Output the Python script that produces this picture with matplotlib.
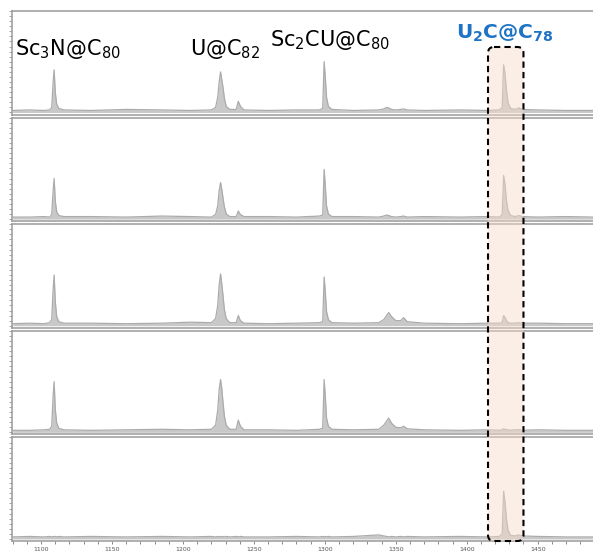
import numpy as np
import matplotlib
matplotlib.use("Agg")
import matplotlib.pyplot as plt
from matplotlib.patches import FancyBboxPatch
from matplotlib.ticker import MultipleLocator

# m/z points where the trace changes (shared by all five spectra)
mz = [1080, 1092, 1102, 1106, 1107.5, 1108.5, 1109.2, 1110, 1111, 1112.5, 1116,
      1135, 1160, 1185, 1205,
      1220, 1223, 1224.5, 1225.5, 1226.5, 1227.3, 1228.2, 1229.2, 1230.5, 1233,
      1237.5, 1239, 1240.5, 1243,
      1260, 1280, 1296, 1298.5, 1299.5, 1300.3, 1301.2, 1302.5, 1305, 1320,
      1338, 1341.5, 1343.5, 1345, 1347, 1350, 1353.5, 1355.5, 1358, 1370,
      1395, 1415, 1423, 1425, 1426, 1427, 1428, 1429.2, 1431, 1434, 1437, 1439,
      1450, 1470, 1489]

spec1 = [2, 2.5, 2, 2.5, 5, 30, 42, 20, 8, 4, 2.5,
         2, 3, 2.5, 2,
         2.5, 5, 15, 30, 40, 33, 25, 14, 6, 3, 3, 11, 6, 2.5,
         2, 2.5, 2.5, 4, 50, 35, 15, 6, 3, 2,
         2.5, 3.5, 5, 4.5, 3, 2.5, 3, 3.5, 2.5, 2,
         2.5, 2, 2.5, 5, 47, 38, 22, 9, 4, 3, 4.5, 3, 2.5, 2, 2]
spec2 = [2, 2, 2.5, 2, 4.5, 28, 40, 18, 7, 3.5, 2.5,
         2.5, 2, 3, 2.5,
         2, 4.5, 13, 28, 36, 30, 21, 12, 5, 2.5, 2.5, 8, 4.5, 2.5,
         2.5, 2, 3, 4, 49, 33, 13, 5, 2.5, 2.5,
         2, 3, 4, 3.5, 2.5, 2, 2.5, 3, 2, 2.5,
         2, 2.5, 2, 4.5, 43, 34, 18, 8, 3.5, 2.5, 3.5, 2.5, 2, 2.5, 2]
spec3 = [2, 2.5, 2, 3, 6, 36, 50, 24, 9, 4, 2.5,
         2.5, 2, 2.5, 3.5,
         3, 7, 20, 40, 51, 42, 30, 16, 7, 3, 3, 10, 5, 2.5,
         2, 2.5, 3, 4, 48, 34, 14, 6, 3, 2.5,
         3, 6, 10, 13, 9, 5, 5, 8, 4, 2.5,
         2, 2.5, 2.5, 3, 10, 8, 5, 3, 2.5, 2.5, 3, 2.5, 2.5, 2, 2]
spec4 = [2, 2, 2.5, 3, 6, 36, 50, 23, 9, 4, 2.5,
         2, 2.5, 3, 2.5,
         3, 7, 22, 42, 52, 44, 30, 16, 7, 3, 3, 12, 6, 2.5,
         2.5, 2, 3, 4, 52, 36, 14, 6, 3, 2.5,
         3, 7, 11, 14, 9, 5, 4.5, 6, 3.5, 2.5,
         2, 2.5, 2, 2.5, 3.5, 3, 2.5, 2.5, 2, 2.5, 2.5, 2, 2.5, 2, 2]
spec5 = [2, 2.5, 2, 2.5, 2, 2.5, 2, 2.5, 2, 2.5, 2,
         2.5, 2, 2.5, 2,
         2.5, 2, 2.5, 2, 2.5, 2, 2.5, 2, 2.5, 2, 2.5, 2, 2.5, 2,
         2, 2.5, 2, 2.5, 2, 2.5, 2, 2.5, 2, 2.5,
         4, 3, 2.5, 2, 2.5, 2, 2.5, 2, 2.5, 2,
         2.5, 2, 2.5, 5, 47, 36, 20, 8, 3.5, 3, 4, 3, 2.5, 2, 2]
spectra = [spec1, spec2, spec3, spec4, spec5]

box_range = [1415, 1440]

W, H = 593, 558
XMIN, XMAX = 1079.5, 1489
fig = plt.figure(figsize=(W / 100, H / 100), dpi=100)
left, right = 12 / W, 1.0
top, bottom = 1 - 11 / H, 1 - 541 / H
gs = fig.add_gridspec(5, 1, left=left, right=right, top=top, bottom=bottom, hspace=0.03)

axes = []
for i, s in enumerate(spectra):
    ax = fig.add_subplot(gs[i])
    ax.fill_between(mz, 0, s, color="#c8c8c8", lw=0)
    ax.plot(mz, s, color="#ababab", lw=0.9)
    ax.set_xlim(XMIN, XMAX)
    ax.set_ylim(-2, 100)
    for side in ["left", "bottom", "top"]:
        ax.spines[side].set_color("#9a9a9a")
        ax.spines[side].set_linewidth(1.1)
    ax.spines["right"].set_visible(False)
    ax.yaxis.set_major_locator(MultipleLocator(5))
    ax.tick_params(axis="y", length=2, width=0.6, color="#999999", labelleft=False)
    if i < 4:
        ax.tick_params(axis="x", bottom=False, labelbottom=False)
    else:
        ax.xaxis.set_major_locator(MultipleLocator(50))
        ax.xaxis.set_minor_locator(MultipleLocator(10))
        ax.tick_params(axis="x", which="both", length=2.5, width=0.6, color="#777777",
                       labelsize=4.5, labelcolor="#555555", pad=2)
    axes.append(ax)

# highlight box spanning all panels, drawn on a pixel-unit overlay
ov = fig.add_axes([0, 0, 1, 1])
ov.set_xlim(0, W)
ov.set_ylim(H, 0)
ov.axis("off")
px_per_unit = W * (right - left) / (XMAX - XMIN)
bx0 = left * W + (box_range[0] - XMIN) * px_per_unit
bx1 = left * W + (box_range[1] - XMIN) * px_per_unit
by0, by1 = 47, 541
box = FancyBboxPatch((bx0, by0), bx1 - bx0, by1 - by0,
                     boxstyle="round,pad=0,rounding_size=6",
                     facecolor="#f7dac8", edgecolor="none", alpha=0.45)
ov.add_patch(box)
edge = FancyBboxPatch((bx0, by0), bx1 - bx0, by1 - by0,
                      boxstyle="round,pad=0,rounding_size=6",
                      facecolor="none", edgecolor="black", lw=1.5, ls=(0, (3, 2)))
ov.add_patch(edge)

fig.text(15 / W, 1 - 49 / H, r"Sc$_3$N@C$_{80}$", fontsize=15, va="center", ha="left")
fig.text(190 / W, 1 - 49 / H, r"U@C$_{82}$", fontsize=15, va="center", ha="left")
fig.text(270 / W, 1 - 40 / H, r"Sc$_2$CU@C$_{80}$", fontsize=15, va="center", ha="left")
fig.text(456 / W, 1 - 33 / H, r"U$_\mathbf{2}$C@C$_\mathbf{78}$", fontsize=14.5,
         fontweight="bold", color="#1f73c4", va="center", ha="left")

fig.savefig("out.png", dpi=100)
